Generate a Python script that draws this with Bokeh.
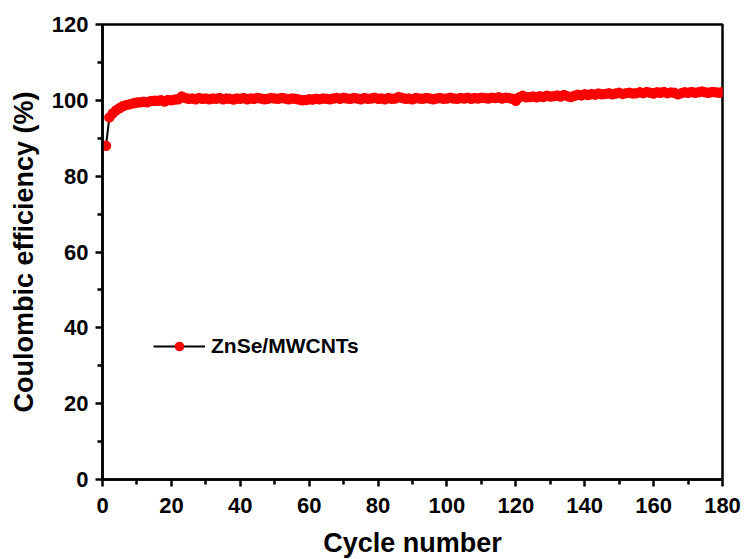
from bokeh.plotting import figure
from bokeh.models import Range1d, Legend, LegendItem, FixedTicker
from bokeh.embed import file_html
from bokeh.resources import INLINE

cycles = list(range(1, 181))
efficiency = [
    88.0, 95.5, 96.6, 97.4, 98.0, 98.5, 98.8, 99.0, 99.2, 99.4,
    99.5, 99.6, 99.5, 99.8, 99.9, 99.9, 100.0, 99.7, 100.1, 100.0,
    100.2, 100.3, 101.0, 100.6, 100.4, 100.5, 100.3, 100.6, 100.4, 100.5,
    100.3, 100.5, 100.4, 100.6, 100.3, 100.5, 100.4, 100.2, 100.5, 100.4,
    100.6, 100.3, 100.5, 100.4, 100.6, 100.5, 100.3, 100.4, 100.6, 100.5,
    100.4, 100.6, 100.5, 100.3, 100.5, 100.4, 100.2, 100.0, 100.1, 100.3,
    100.2, 100.4, 100.3, 100.5, 100.4, 100.3, 100.5, 100.6, 100.4, 100.7,
    100.5, 100.4, 100.6, 100.5, 100.3, 100.6, 100.4, 100.5, 100.7, 100.4,
    100.5, 100.3, 100.6, 100.4, 100.5, 100.9, 100.6, 100.4, 100.5, 100.3,
    100.6, 100.5, 100.4, 100.6, 100.5, 100.3, 100.5, 100.6, 100.4, 100.5,
    100.7, 100.5, 100.4, 100.6, 100.5, 100.7, 100.4, 100.6, 100.5, 100.7,
    100.6, 100.5, 100.7, 100.6, 100.8, 100.5, 100.7, 100.6, 100.4, 99.9,
    100.8, 101.2, 100.8, 100.9, 101.0, 100.8, 101.1, 100.9, 101.2, 101.0,
    101.1, 101.3, 101.0, 101.4, 101.1, 100.9, 101.2, 101.5, 101.3, 101.6,
    101.4, 101.7, 101.5, 101.8, 101.6, 101.7, 101.9, 101.6, 101.8, 102.0,
    101.7, 101.9, 102.0, 101.8, 101.9, 102.1, 101.9, 102.2, 102.0, 101.8,
    102.1, 102.0, 102.2, 101.9, 102.1, 102.0, 101.6, 101.9, 102.1, 102.0,
    102.2, 102.0, 102.1, 102.3, 102.1, 102.0, 102.2, 102.1, 102.0, 102.2,
]
series_label = "ZnSe/MWCNTs"
x_ticks = [0, 20, 40, 60, 80, 100, 120, 140, 160, 180]
y_ticks = [0, 20, 40, 60, 80, 100, 120]

FONT = "Liberation Sans"

p = figure(width=744, height=557, output_backend="svg", toolbar_location=None,
           x_range=Range1d(0, 180), y_range=Range1d(0, 120),
           min_border_left=102, min_border_right=22, min_border_top=24, min_border_bottom=78)
p.frame_width = 620
p.frame_height = 455
p.grid.visible = False
p.outline_line_color = "black"
p.outline_line_width = 2.5
p.background_fill_color = "white"
p.border_fill_color = "white"

line = p.line(cycles, efficiency, line_color="black", line_width=2)
pts = p.scatter(cycles, efficiency, size=10.5, fill_color="#ff0000", line_color="#ff0000", line_width=0)

for ax, ticks, lab in ((p.xaxis[0], x_ticks, "Cycle number"), (p.yaxis[0], y_ticks, "Coulombic efficiency (%)")):
    ax.ticker = FixedTicker(ticks=ticks, minor_ticks=[t + (ticks[1] - ticks[0]) / 2 for t in ticks[:-1]])
    ax.axis_label = lab
    ax.axis_label_text_font = FONT
    ax.axis_label_text_font_style = "bold"
    ax.axis_label_text_font_size = "27px"
    ax.axis_label_text_color = "black"
    ax.major_label_text_font = FONT
    ax.major_label_text_font_style = "bold"
    ax.major_label_text_font_size = "22px"
    ax.major_label_text_color = "black"
    ax.axis_line_width = 2.5
    ax.axis_line_color = "black"
    ax.major_tick_line_width = 2.5
    ax.minor_tick_line_width = 2.5
    ax.major_tick_in = 0
    ax.major_tick_out = 7
    ax.minor_tick_in = 0
    ax.minor_tick_out = 5

p.xaxis[0].major_label_standoff = 11
p.yaxis[0].major_label_standoff = 7
p.xaxis[0].axis_label_standoff = 12
p.yaxis[0].axis_label_standoff = 10

legend = Legend(items=[LegendItem(label=series_label, renderers=[line, pts])],
                location=(51, 121), border_line_color=None, background_fill_alpha=0,
                glyph_width=52, glyph_height=24, label_text_font=FONT,
                label_text_font_style="bold", label_text_font_size="21px",
                label_text_color="black", label_standoff=6)
p.add_layout(legend)

open("out.html", "w").write(file_html(p, INLINE))
